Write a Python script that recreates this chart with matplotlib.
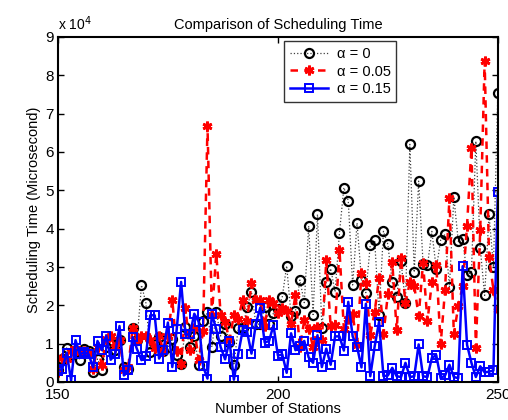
import matplotlib
matplotlib.use("Agg")
import matplotlib.pyplot as plt
from matplotlib.ticker import FuncFormatter

plt.rcParams['font.family'] = ['Liberation Sans', 'DejaVu Sans']

stations = list(range(150, 251))

# values in units of 1e4 microseconds
alpha_0 = [0.30, 0.60, 0.89, 0.70, 0.80, 0.58, 0.86, 0.80, 0.25, 0.60,
           0.31, 0.90, 1.00, 0.83, 1.10, 0.39, 0.35, 1.40, 1.10, 2.53,
           2.06, 0.78, 1.00, 1.18, 0.80, 0.91, 1.13, 0.70, 0.46, 1.44,
           0.90, 1.20, 0.44, 1.60, 1.82, 0.91, 1.82, 1.20, 1.50, 1.04,
           0.44, 1.42, 1.40, 1.96, 2.35, 1.52, 1.50, 1.96, 1.50, 1.80,
           1.90, 2.22, 3.03, 1.72, 1.85, 2.66, 2.07, 4.07, 1.76, 4.37,
           1.42, 2.61, 2.96, 2.35, 3.89, 5.07, 4.73, 2.53, 4.15, 2.66,
           2.33, 3.57, 3.70, 1.76, 3.93, 3.59, 2.60, 2.22, 3.15, 2.06,
           6.20, 2.86, 5.24, 3.09, 3.04, 3.93, 2.95, 3.70, 3.85, 2.48,
           4.83, 3.67, 3.73, 2.80, 2.86, 6.28, 3.50, 2.26, 4.37, 3.00,
           7.55]

alpha_005 = [0.25, 0.62, 0.60, 0.80, 0.85, 0.78, 0.80, 0.75, 0.35, 0.90,
             0.45, 1.13, 1.20, 0.90, 1.10, 0.30, 0.40, 1.42, 1.10, 1.20,
             1.20, 1.10, 0.88, 1.20, 0.80, 1.20, 2.15, 0.80, 0.47, 1.92,
             0.83, 1.40, 0.57, 1.33, 6.68, 1.75, 3.35, 1.76, 1.57, 1.09,
             1.74, 1.65, 2.15, 1.60, 2.58, 2.13, 2.15, 1.46, 2.15, 2.05,
             1.80, 1.92, 1.85, 1.52, 2.28, 0.90, 1.61, 1.39, 0.91, 1.44,
             1.10, 3.17, 1.45, 1.48, 3.45, 1.38, 1.65, 1.77, 0.96, 2.85,
             2.59, 1.22, 1.83, 2.70, 1.24, 2.29, 3.14, 1.35, 3.23, 2.06,
             2.60, 2.51, 1.71, 3.11, 1.58, 2.60, 3.06, 0.98, 2.40, 4.81,
             1.24, 1.98, 2.50, 4.08, 6.11, 0.89, 3.97, 8.37, 3.26, 2.40,
             1.87]

alpha_015 = [0.29, 0.35, 0.76, 0.04, 1.09, 0.72, 0.78, 0.72, 0.38, 1.07,
             0.83, 1.21, 0.58, 0.72, 1.46, 0.17, 0.32, 1.17, 0.85, 0.57,
             0.67, 1.74, 1.74, 0.61, 0.83, 1.55, 0.39, 1.37, 2.61, 1.24,
             1.24, 1.78, 1.57, 0.41, 0.09, 1.78, 1.37, 0.91, 0.59, 1.07,
             0.06, 0.74, 1.35, 1.31, 0.74, 1.52, 1.94, 1.03, 1.07, 1.48,
             0.69, 0.72, 0.24, 1.27, 0.83, 0.95, 1.07, 0.64, 0.50, 1.22,
             0.39, 0.87, 0.45, 1.19, 1.19, 0.82, 2.09, 1.19, 0.92, 0.38,
             2.04, 0.15, 0.93, 1.57, 0.15, 0.17, 0.37, 0.15, 0.13, 0.50,
             0.13, 0.15, 0.98, 0.15, 0.13, 0.63, 0.70, 0.10, 0.17, 0.45,
             0.13, 0.10, 3.02, 0.97, 0.50, 0.13, 0.41, 0.25, 0.27, 0.30,
             4.95]

labels = ['α = 0', 'α = 0.05', 'α = 0.15']
scale = 1e4

fig = plt.figure(figsize=(5.08, 4.20), dpi=100)
ax = fig.add_axes([0.114, 0.0905, 0.866, 0.8215])

ax.plot(stations, [v * scale for v in alpha_0], color='0.25', linestyle=':',
        linewidth=0.9, marker='o', markersize=6.5, markerfacecolor='none',
        markeredgecolor='black', markeredgewidth=1.6, label=labels[0])
ax.plot(stations, [v * scale for v in alpha_005], color='red', linestyle='--',
        linewidth=1.8, dashes=(3, 2.5), marker=(6, 2, 0), markersize=7,
        markeredgecolor='red', markeredgewidth=2.0, label=labels[1])
ax.plot(stations, [v * scale for v in alpha_015], color='blue', linestyle='-',
        linewidth=1.8, marker='s', markersize=5.5, markerfacecolor='none',
        markeredgecolor='blue', markeredgewidth=1.4, label=labels[2])

ax.set_xlim(150, 250)
ax.set_ylim(0, 9e4)
ax.set_xticks([150, 200, 250])
ax.set_yticks([i * scale for i in range(10)])
ax.yaxis.set_major_formatter(FuncFormatter(lambda v, p: '%d' % round(v / scale)))
ax.tick_params(axis='both', direction='in', length=4, width=1.0, labelsize=11,
               top=True, right=True)
ax.tick_params(axis='x', pad=4)
ax.tick_params(axis='y', pad=3)
for s in ax.spines.values():
    s.set_linewidth(1.5)

ax.set_title('Comparison of Scheduling Time', fontsize=10.5, pad=6)
ax.set_xlabel('Number of Stations', fontsize=10.5, labelpad=0)
ax.set_ylabel('Scheduling Time (Microsecond)', fontsize=10.5, labelpad=3)
ax.text(0.0, 1.012, r'x 10$^4$', transform=ax.transAxes, fontsize=10,
        ha='left', va='bottom')

leg = ax.legend(loc='upper left', bbox_to_anchor=(0.514, 0.988), fontsize=10.5,
                handlelength=2.6, frameon=True, fancybox=False, borderpad=0.4,
                labelspacing=0.25, handletextpad=0.6, borderaxespad=0)
leg.get_frame().set_edgecolor('black')
leg.get_frame().set_linewidth(1.0)

fig.savefig('out.png', dpi=100)
